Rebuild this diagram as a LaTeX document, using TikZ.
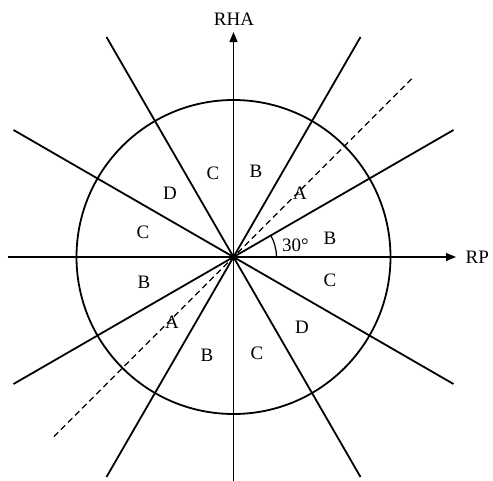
\documentclass[tikz,border=0pt]{standalone}
\usepackage{fontspec}
\setmainfont{Liberation Serif}
\usetikzlibrary{arrows.meta}
\begin{document}
\begin{tikzpicture}[x=1pt,y=1pt,
  ray/.style={line width=1.8pt},
  axis/.style={line width=1.2pt,-{Triangle[length=10pt,width=8pt]}},
  lbl/.style={font=\fontsize{19}{21}\selectfont,inner sep=1pt},
  dash line/.style={line width=1.3pt,dash pattern=on 6pt off 4pt}]
\useasboundingbox (-233.5,-223) rectangle (259.5,257);
\coordinate (O) at (0,0);
\foreach \a in {30,60,120,150,210,240,300,330}{
  \coordinate (r\a) at (\a:254);
}
\coordinate (d45) at (45:254);
\coordinate (d225) at (225:254);
\coordinate (xl) at (-225.5,0);
\coordinate (xr) at (222.5,0);
\coordinate (yb) at (0,-226);
\coordinate (yt) at (0,225);
% circle
\draw[ray] (O) circle[radius=157];
% rays
\draw[ray] (r30) -- (r210);
\draw[ray] (r60) -- (r240);
\draw[ray] (r120) -- (r300);
\draw[ray] (r150) -- (r330);
\draw[dash line] (d225) -- (d45);
% axes
\draw[axis] (xl) -- (xr);
\draw[axis] (yb) -- (yt);
\fill (O) circle[radius=3];
% angle arc
\draw[line width=1.2pt] (43,0) arc[start angle=0,end angle=30,radius=43];
% labels
\node[lbl] (rha) at (0.5,238) {RHA};
\node[lbl,anchor=west] (rp) at (231,0) {RP};
\node[lbl] (l1) at (-20.5,84) {C};
\node[lbl] (l2) at (22.5,86) {B};
\node[lbl] (l3) at (-63.5,64) {D};
\node[lbl] (l4) at (66.5,64) {A};
\node[lbl] (l5) at (-90.5,25) {C};
\node[lbl] (l6) at (96.5,19) {B};
\node[lbl] (l7) at (62,12) {30°};
\node[lbl] (l8) at (96.5,-23) {C};
\node[lbl] (l9) at (-89.5,-25) {B};
\node[lbl] (l10) at (-61.5,-65) {A};
\node[lbl] (l11) at (-26.5,-98) {B};
\node[lbl] (l12) at (23.5,-96) {C};
\node[lbl] (l13) at (68.5,-70) {D};
\end{tikzpicture}
\end{document}
